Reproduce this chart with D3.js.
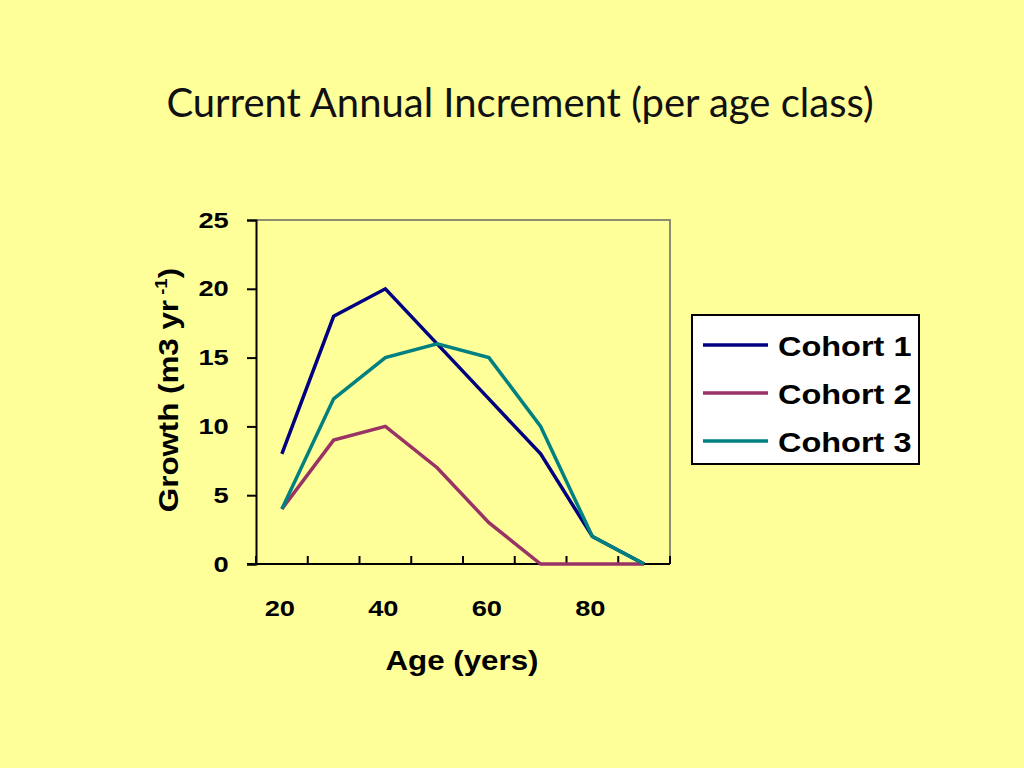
<!DOCTYPE html>
<html>
<head>
<meta charset="utf-8">
<script src="https://cdn.jsdelivr.net/npm/d3@7"></script>
<style>
  body { margin: 0; background: #ffff99; }
  svg { display: block; }
  .bold { font-family: "Liberation Sans", Arial, sans-serif; font-weight: bold; }
</style>
</head>
<body>
<script>
const w = 1024;
const h = 768;

const ages = [20, 30, 40, 50, 60, 70, 80, 90];
const ageLabels = [20, 40, 60, 80];
const growthTicks = [0, 5, 10, 15, 20, 25];
const seriesNames = ["Cohort 1", "Cohort 2", "Cohort 3"];
const cohort1 = [8, 18, 20, 16, 12, 8, 2, 0];
const cohort2 = [4, 9, 10, 7, 3, 0, 0, 0];
const cohort3 = [4, 12, 15, 16, 15, 10, 2, 0];
const colors = ["#000080", "#993366", "#008080"];

const series = [cohort1, cohort2, cohort3];
const sx = 1.16; // text looks horizontally stretched in the slide

const svg = d3.select("body").append("svg").attr("width", w).attr("height", h);

svg.append("rect").attr("width", w).attr("height", h).attr("fill", "#ffff99");

// title
svg.append("text")
  .attr("x", 520)
  .attr("y", 117)
  .attr("text-anchor", "middle")
  .attr("font-family", "Lato, 'DejaVu Sans', sans-serif")
  .attr("font-weight", 400)
  .attr("font-size", 40)
  .attr("fill", "#111")
  .text("Current Annual Increment (per age class)");

const pLeft = 256, pRight = 670, pTop = 220, pBottom = 564;

const x = d3.scaleBand().domain(ages).range([pLeft, pRight]);
const y = d3.scaleLinear().domain([0, 25]).range([pBottom, pTop]);

// plot border top/right
svg.append("path")
  .attr("d", `M${pLeft},${pTop}H${pRight}V${pBottom}`)
  .attr("fill", "none")
  .attr("stroke", "#8c8c70")
  .attr("stroke-width", 2);

// y axis
const yAxis = d3.axisLeft(y).tickValues(growthTicks).tickSize(9).tickPadding(13);
const gy = svg.append("g")
  .attr("transform", `translate(${pLeft},0)`)
  .call(yAxis);
gy.select(".domain").attr("stroke", "#000").attr("stroke-width", 2);
gy.selectAll(".tick line").attr("stroke", "#000").attr("stroke-width", 2);
gy.selectAll(".tick text")
  .attr("class", "bold")
  .attr("font-size", 22)
  .attr("fill", "#000")
  .attr("transform", "scale(1.24,1)");

// x axis: ticks between categories, labels every other category
const gx = svg.append("g");
gx.append("line")
  .attr("x1", pLeft - 9).attr("x2", pRight)
  .attr("y1", pBottom).attr("y2", pBottom)
  .attr("stroke", "#000").attr("stroke-width", 2);
gx.selectAll(".xt")
  .data(ages.map((a) => x(a)).concat([pRight]))
  .enter()
  .append("line")
  .attr("x1", (d) => d).attr("x2", (d) => d)
  .attr("y1", pBottom).attr("y2", pBottom - 8)
  .attr("stroke", "#000").attr("stroke-width", 2);
gx.selectAll(".xl")
  .data(ageLabels)
  .enter()
  .append("text")
  .attr("class", "bold")
  .attr("font-size", 22)
  .attr("text-anchor", "middle")
  .attr("transform", (d) => `translate(${x(d) + x.bandwidth() / 2 - 2},616) scale(1.24,1)`)
  .text((d) => d);

// axis titles
svg.append("text")
  .attr("class", "bold")
  .attr("font-size", 27)
  .attr("text-anchor", "middle")
  .attr("transform", `translate(462,670) scale(${sx},1)`)
  .text("Age (yers)");

const yt = svg.append("text")
  .attr("class", "bold")
  .attr("font-size", 27)
  .attr("text-anchor", "middle")
  .attr("transform", `translate(178,390) rotate(-90) scale(${sx},1)`);
yt.append("tspan").text("Growth (m3 yr");
yt.append("tspan").attr("font-size", 16).attr("dy", -11).text(" -1");
yt.append("tspan").attr("dy", 11).text(")");

// lines
const line = d3.line()
  .x((d, i) => x(ages[i]) + x.bandwidth() / 2)
  .y((d) => y(d));

svg.selectAll(".series")
  .data(series)
  .enter()
  .append("path")
  .attr("d", (d) => line(d))
  .attr("fill", "none")
  .attr("stroke", (d, i) => colors[i])
  .attr("stroke-width", 3.5)
  .attr("stroke-linejoin", "miter");

// legend
const lg = svg.append("g");
lg.append("rect")
  .attr("x", 692).attr("y", 315)
  .attr("width", 227).attr("height", 149)
  .attr("fill", "#fff")
  .attr("stroke", "#000")
  .attr("stroke-width", 2);
seriesNames.forEach((name, i) => {
  const cy = 345 + i * 48;
  lg.append("line")
    .attr("x1", 703).attr("x2", 768)
    .attr("y1", cy).attr("y2", cy)
    .attr("stroke", colors[i])
    .attr("stroke-width", 3.5);
  lg.append("text")
    .attr("class", "bold")
    .attr("font-size", 28)
    .attr("transform", `translate(778,${cy + 11}) scale(${sx},1)`)
    .text(name);
});
</script>
</body>
</html>
